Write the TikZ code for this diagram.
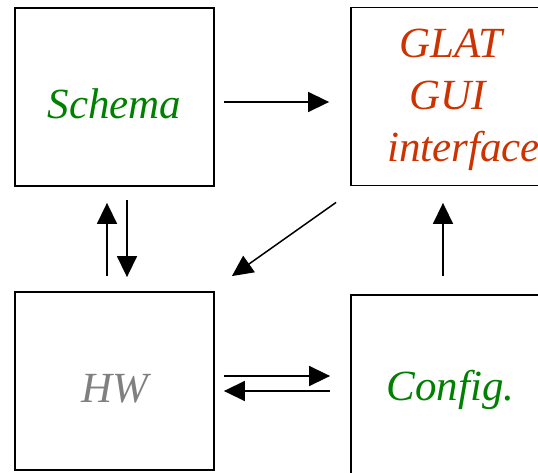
\documentclass[tikz,border=0pt]{standalone}
\usepackage{fontspec}
\setmainfont{Liberation Serif}
\usepackage{xcolor}
\definecolor{cGreen}{HTML}{008000}
\definecolor{cRed}{HTML}{CC3300}
\definecolor{cGray}{HTML}{808080}
\usetikzlibrary{positioning,arrows.meta}
\tikzset{
  node-box/.style={draw=black,line width=1.8pt,minimum width=199pt,
    minimum height=178pt,inner sep=0pt,align=center,text height=44pt,
    font=\fontsize{43}{51}\selectfont\itshape},
  node-label/.style={inner sep=0pt,align=left,
    font=\fontsize{43}{52}\selectfont\itshape},
  arrow/.style={-{Triangle[length=21pt,width=20pt]},line width=1.5pt,draw=black},
}

\begin{document}
\begin{tikzpicture}[x=1pt,y=-1pt]
  \useasboundingbox (0,0) rectangle (538,473);
  \clip (0,0) rectangle (538,473);
  \node[node-box,text=cGreen] (schema) at (114.5,97) {Schema};
  \node[node-box] (glat) at (450.5,96.5) {};
  \node[node-label,anchor=north west,text=cRed] (glat-text) at (387,29)
    {\hspace*{12pt}GLAT\\\hspace*{22pt}GUI\\interface};
  \node[node-box,text=cGray] (hw) at (114.5,381) {HW};
  \node[node-box,text=cGreen,minimum height=184pt,text height=36pt] (config) at (450.5,387) {Config.};
  % connectors
  \draw[arrow,shorten <=9pt,shorten >=21pt] ([yshift=-5pt]schema.east) -- ([yshift=-5pt]schema.east -| glat.west);
  \draw[arrow,shorten <=15pt,shorten >=16pt] ([xshift=-7.5pt]hw.north) -- ([xshift=-7.5pt]schema.south);
  \draw[arrow,shorten <=13pt,shorten >=14pt] ([xshift=12.5pt]schema.south) -- ([xshift=12.5pt]hw.north);
  \draw[arrow] ([shift={(-14,16)}]glat.south west) -- ([shift={(17,-15)}]hw.north east);
  \draw[arrow,shorten <=18pt,shorten >=16.5pt] ([xshift=-7.5pt]config.north) -- ([xshift=-7.5pt]glat.south);
  \draw[arrow,shorten <=9pt,shorten >=20pt] ([yshift=5pt]hw.east) -- ([yshift=5pt]hw.east -| config.west);
  \draw[arrow,shorten <=20pt,shorten >=9pt] ([yshift=-10pt]hw.east -| config.west) -- ([yshift=-10pt]hw.east);
\end{tikzpicture}
\end{document}
